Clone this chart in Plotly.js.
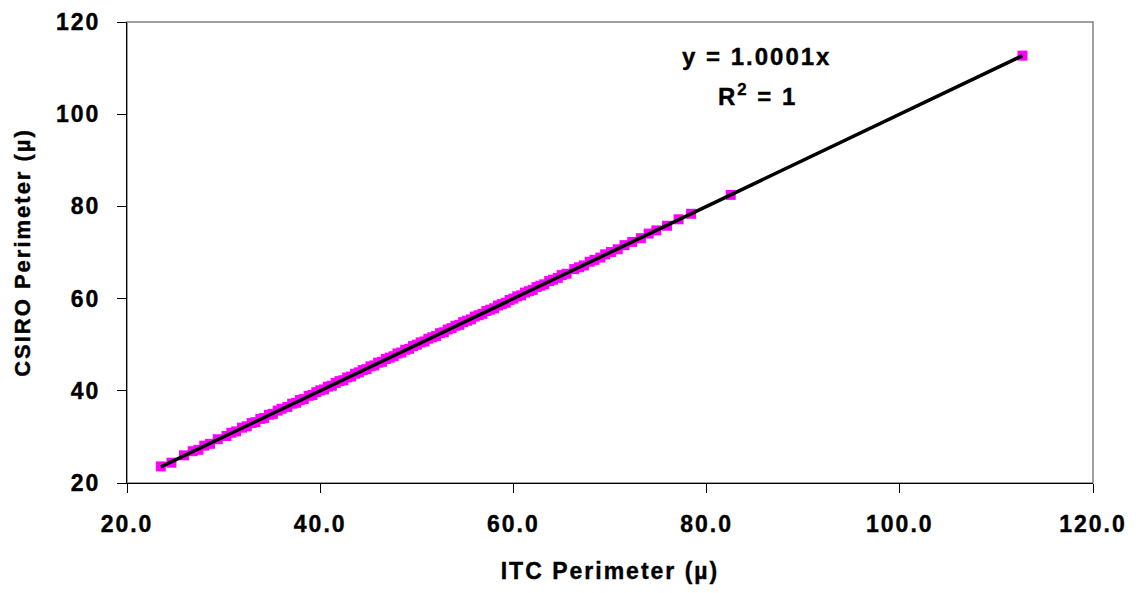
<!DOCTYPE html>
<html>
<head>
<meta charset="utf-8">
<script src="https://cdn.plot.ly/plotly-3.0.1.min.js"></script>
<style>
  html, body { margin: 0; padding: 0; background: #fff; }
  #chart { width: 1136px; height: 593px; }
  .main-svg text { letter-spacing: 2px; stroke: #000; stroke-width: 0.4px; }
</style>
</head>
<body>
<div id="chart"></div>
<script>
// ITC perimeter (x) vs CSIRO perimeter (y)
const itcPerimeter = [23.5, 24.6, 25.9, 26.8, 27.4, 28.0, 28.6, 29.4, 30.3, 30.8, 31.3, 31.9, 32.4, 32.9, 33.3, 33.8, 34.2, 34.7, 35.1, 35.6,
  36.0, 36.6, 37.1, 37.5, 37.9, 38.3, 38.8, 39.2, 39.6, 40.0, 40.4, 40.8, 41.2, 41.6, 42.0, 42.4, 42.8, 43.2, 43.6, 44.0,
  44.4, 44.8, 45.2, 45.6, 46.0, 46.4, 46.8, 47.2, 47.6, 48.0, 48.4, 48.8, 49.2, 49.6, 50.0, 50.4, 50.8, 51.2, 51.6, 52.0,
  52.4, 52.8, 53.2, 53.6, 54.0, 54.4, 54.8, 55.2, 55.6, 56.0, 56.4, 56.8, 57.2, 57.6, 58.0, 58.4, 58.8, 59.2, 59.6, 60.0,
  60.4, 60.8, 61.2, 61.6, 62.0, 62.4, 62.8, 63.2, 63.7, 64.1, 64.6, 65.0, 65.5, 66.3, 66.8, 67.3, 67.9, 68.4, 69.0, 69.5,
  70.1, 70.8, 71.5, 72.3, 73.2, 74.0, 74.8, 75.9, 77.1, 78.4, 82.5, 112.7];
const csiroPerimeter = [23.6, 24.4, 26.0, 26.9, 27.2, 28.1, 28.5, 29.5, 30.2, 30.9, 31.2, 32.0, 32.3, 33.0, 33.2, 33.9, 34.1, 34.8, 35.0, 35.7,
  36.1, 36.5, 37.2, 37.4, 38.0, 38.2, 38.9, 39.1, 39.7, 40.1, 40.3, 40.9, 41.1, 41.7, 42.1, 42.3, 42.9, 43.1, 43.7, 44.0,
  44.5, 44.7, 45.3, 45.5, 46.1, 46.3, 46.9, 47.2, 47.5, 48.1, 48.3, 48.9, 49.1, 49.7, 50.0, 50.5, 50.7, 51.3, 51.6, 51.9,
  52.5, 52.7, 53.3, 53.6, 54.1, 54.3, 54.9, 55.2, 55.5, 56.1, 56.4, 56.7, 57.3, 57.6, 57.9, 58.5, 58.8, 59.1, 59.7, 60.0,
  60.5, 60.7, 61.3, 61.6, 61.9, 62.5, 62.8, 63.1, 63.8, 64.1, 64.5, 65.1, 65.4, 66.4, 66.8, 67.2, 68.0, 68.4, 68.9, 69.6,
  70.1, 70.7, 71.6, 72.3, 73.1, 74.1, 74.8, 75.8, 77.2, 78.4, 82.5, 112.7];

// Linear trendline through origin: y = 1.0001x
const trendX = [23.5, 112.7];
const trendY = [23.502, 112.711];

const xTicks = [20, 40, 60, 80, 100, 120];
const yTicks = [20, 40, 60, 80, 100, 120];

const fontFam = 'Liberation Sans, Arial, sans-serif';

const traces = [
  {
    x: itcPerimeter, y: csiroPerimeter,
    type: 'scatter', mode: 'markers',
    marker: { symbol: 'square', size: 10, color: '#FF00FF', line: { width: 0 } },
    showlegend: false, hoverinfo: 'x+y'
  },
  {
    x: trendX, y: trendY,
    type: 'scatter', mode: 'lines',
    line: { color: '#000000', width: 3.5 },
    showlegend: false, hoverinfo: 'skip'
  }
];

const layout = {
  width: 1136, height: 593,
  margin: { l: 127, r: 43, t: 22, b: 110, pad: 0 },
  paper_bgcolor: '#ffffff', plot_bgcolor: '#ffffff',
  font: { family: fontFam, color: '#000000' },
  showlegend: false,
  xaxis: {
    range: [20, 120], tickmode: 'array', tickvals: xTicks,
    ticktext: xTicks.map(v => v.toFixed(1)),
    showgrid: false, zeroline: false,
    showline: true, linecolor: '#000000', linewidth: 1,
    ticks: 'outside', ticklen: 9, tickwidth: 1, tickcolor: '#000000',
    ticklabelstandoff: 11,
    tickfont: { family: fontFam, size: 23, color: '#000000', weight: 'bold' },
    title: { text: '<b>ITC Perimeter (µ)</b>', font: { family: fontFam, size: 23, color: '#000000' }, standoff: 27 }
  },
  yaxis: {
    range: [20, 120], tickmode: 'array', tickvals: yTicks,
    ticktext: yTicks.map(v => String(v)),
    showgrid: false, zeroline: false,
    showline: true, linecolor: '#000000', linewidth: 1,
    ticks: 'outside', ticklen: 9, tickwidth: 1, tickcolor: '#000000',
    ticklabelstandoff: 12,
    tickfont: { family: fontFam, size: 23, color: '#000000', weight: 'bold' },
    title: { text: '<b>CSIRO Perimeter (µ)</b>', font: { family: fontFam, size: 22, color: '#000000' }, standoff: 25 }
  },
  shapes: [
    { type: 'rect', xref: 'paper', yref: 'paper', x0: 0, x1: 1, y0: 0, y1: 1,
      line: { color: '#808080', width: 1.5 }, layer: 'below' }
  ],
  annotations: [
    { xref: 'paper', yref: 'paper', x: 0.6525, y: 0.9256, xanchor: 'center', yanchor: 'middle',
      text: '<b>y = 1.0001x</b>', showarrow: false, font: { family: fontFam, size: 24, color: '#000000' } },
    { xref: 'paper', yref: 'paper', x: 0.6525, y: 0.842, xanchor: 'center', yanchor: 'middle',
      text: '<b>R<sup>2</sup> = 1</b>', showarrow: false, font: { family: fontFam, size: 24, color: '#000000' } }
  ]
};

Plotly.newPlot('chart', traces, layout, { displayModeBar: false, staticPlot: true });
</script>
</body>
</html>
